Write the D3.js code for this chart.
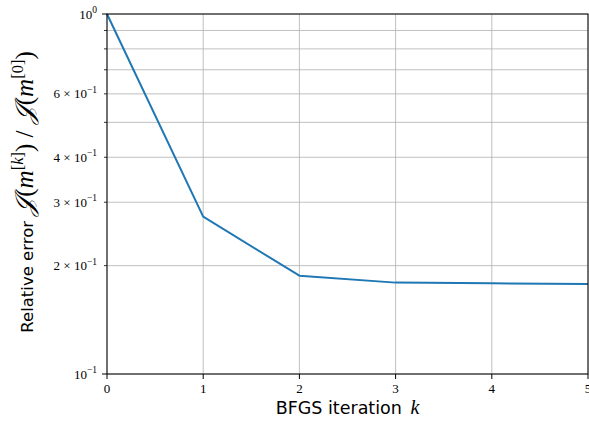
<!DOCTYPE html>
<html><head><meta charset="utf-8">
<script src="https://cdn.jsdelivr.net/npm/d3@7"></script>
<style>body{margin:0;background:#fff}svg{display:block}</style>
</head><body>
<svg id="c" width="589" height="421"></svg>
<script>
const iterations = [0, 1, 2, 3, 4, 5];
const relError = [1.0, 0.2735, 0.1875, 0.1794, 0.1786, 0.1778];
const xTicks = [0, 1, 2, 3, 4, 5];
const yMajor = [0.1, 1];
const yMinor = [0.2, 0.3, 0.4, 0.5, 0.6, 0.7, 0.8, 0.9];
const yLabelled = [{v:0.1, m:"", e:"−1"}, {v:1, m:"", e:"0"}, {v:0.2, m:"2 × ", e:"−1"}, {v:0.3, m:"3 × ", e:"−1"}, {v:0.4, m:"4 × ", e:"−1"}, {v:0.6, m:"6 × ", e:"−1"}];

const svg = d3.select("#c");
const L = 107, R = 588, T = 14, B = 374;
const x = d3.scaleLinear().domain([0, 5]).range([L, R]);
const y = d3.scaleLog().domain([0.1, 1]).range([B, T]);
const serif = "'Liberation Serif', 'DejaVu Serif', serif";
const sans = "'DejaVu Sans', 'Liberation Sans', sans-serif";

// grid
const g = svg.append("g");
xTicks.forEach(t => g.append("line").attr("x1", x(t)).attr("x2", x(t)).attr("y1", T).attr("y2", B).attr("stroke", "#b0b0b0").attr("stroke-width", 0.8));
yMajor.concat(yMinor).forEach(t => g.append("line").attr("x1", L).attr("x2", R).attr("y1", y(t)).attr("y2", y(t)).attr("stroke", "#b0b0b0").attr("stroke-width", 0.8));

// line
svg.append("path").datum(iterations.map((d, i) => [d, relError[i]]))
  .attr("d", d3.line().x(d => x(d[0])).y(d => y(d[1])))
  .attr("fill", "none").attr("stroke", "#1f77b4").attr("stroke-width", 2).attr("stroke-linejoin", "round");

// spines
svg.append("rect").attr("x", L).attr("y", T).attr("width", R - L).attr("height", B - T).attr("fill", "none").attr("stroke", "#000").attr("stroke-width", 1);

// x ticks
xTicks.forEach(t => {
  svg.append("line").attr("x1", x(t)).attr("x2", x(t)).attr("y1", B).attr("y2", B + 5).attr("stroke", "#000").attr("stroke-width", 1);
  svg.append("text").attr("x", x(t)).attr("y", B + 19).attr("text-anchor", "middle").attr("font-family", serif).attr("font-size", 13).text(t);
});
// y ticks
yMajor.forEach(t => svg.append("line").attr("x1", L - 5).attr("x2", L).attr("y1", y(t)).attr("y2", y(t)).attr("stroke", "#000").attr("stroke-width", 1));
yMinor.forEach(t => svg.append("line").attr("x1", L - 3).attr("x2", L).attr("y1", y(t)).attr("y2", y(t)).attr("stroke", "#000").attr("stroke-width", 0.8));
yLabelled.forEach(d => {
  const tx = svg.append("text").attr("x", 97).attr("y", y(d.v) + 4.5).attr("text-anchor", "end").attr("font-family", serif).attr("font-size", 13);
  tx.append("tspan").text(d.m + "10");
  tx.append("tspan").attr("dy", -5.5).attr("font-size", 9.5).text(d.e);
});

// x label
const xl = svg.append("text").attr("x", (L + R) / 2).attr("y", 414).attr("text-anchor", "middle").attr("font-size", 17.5);
xl.append("tspan").attr("font-family", sans).text("BFGS iteration ");
xl.append("tspan").attr("font-family", serif).attr("font-style", "italic").attr("font-size", 20).attr("dx", 3).text("k");

// y label
const yl = svg.append("text").attr("transform", `translate(33,192) rotate(-90)`).attr("text-anchor", "middle").attr("font-size", 17);
yl.append("tspan").attr("font-family", sans).attr("font-size", 16.5).text("Relative error ");
const addJ = (sup) => {
  yl.append("tspan").attr("font-family", serif).attr("font-style", "italic").attr("font-size", 26).text("𝒥");
  yl.append("tspan").attr("font-family", serif).attr("font-size", 25).attr("dx", 1).text("(");
  yl.append("tspan").attr("font-family", serif).attr("font-style", "italic").attr("font-size", 25).text("m");
  yl.append("tspan").attr("font-family", serif).attr("font-size", 16.5).attr("dy", -10).text("[");
  yl.append("tspan").attr("font-family", serif).attr("font-style", sup === "k" ? "italic" : "normal").attr("font-size", 16.5).text(sup);
  yl.append("tspan").attr("font-family", serif).attr("font-size", 16.5).text("]");
  yl.append("tspan").attr("font-family", serif).attr("font-size", 25).attr("dy", 10).text(")");
};
addJ("k");
yl.append("tspan").attr("font-family", serif).attr("font-size", 25).text(" / ");
addJ("0");
</script>
</body></html>
